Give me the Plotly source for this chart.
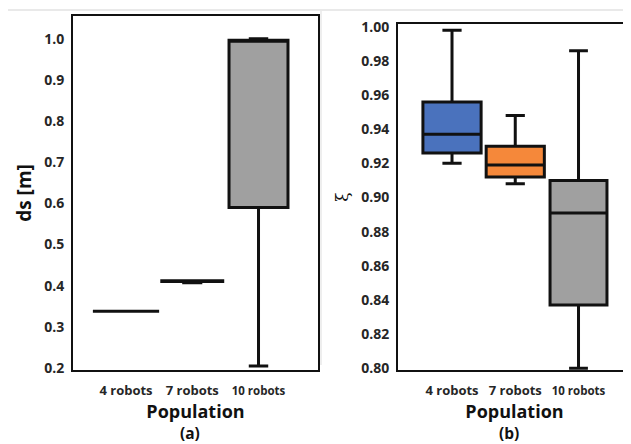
import plotly.graph_objects as go

categories = ["4 robots", "7 robots", "10 robots"]
tick_labels = ["4 robots", "7 robots", "<span style='font-size:11.5px'>10 robots</span>"]

# Panel (a): ds [m]
a_low = [0.338, 0.407, 0.205]
a_q1 = [0.338, 0.410, 0.590]
a_med = [0.338, 0.411, 0.995]
a_q3 = [0.338, 0.412, 0.996]
a_high = [0.338, 0.412, 1.000]
a_width = [1.0, 0.92, 0.89]

# Panel (b): xi
b_low = [0.920, 0.908, 0.800]
b_q1 = [0.926, 0.912, 0.837]
b_med = [0.937, 0.919, 0.891]
b_q3 = [0.956, 0.930, 0.910]
b_high = [0.998, 0.948, 0.986]
b_width = [0.92, 0.92, 0.90]

a_colors = ["#a0a0a0", "#a0a0a0", "#a0a0a0"]
b_colors = ["#4a72bd", "#f5883a", "#a0a0a0"]

fig = go.Figure()
for i, c in enumerate(categories):
    fig.add_trace(go.Box(
        x=[c], q1=[a_q1[i]], median=[a_med[i]], q3=[a_q3[i]],
        lowerfence=[a_low[i]], upperfence=[a_high[i]],
        width=a_width[i], whiskerwidth=0.33,
        fillcolor=a_colors[i], line=dict(color="#111111", width=3),
        xaxis="x", yaxis="y", showlegend=False, hoverinfo="skip"))
for i, c in enumerate(categories):
    fig.add_trace(go.Box(
        x=[c], q1=[b_q1[i]], median=[b_med[i]], q3=[b_q3[i]],
        lowerfence=[b_low[i]], upperfence=[b_high[i]],
        width=b_width[i], whiskerwidth=0.33,
        fillcolor=b_colors[i], line=dict(color="#111111", width=3),
        xaxis="x2", yaxis="y2", showlegend=False, hoverinfo="skip"))

# page has an 8px body margin; figure coordinates = page coordinates - 8
W, H = 623, 444
OFF = 8


def px(x):
    return (x - OFF) / W


def py(y):
    return 1 - (y - OFF) / H


tickfont = dict(family="Open Sans", size=14, color="#262626", weight="bold")
xtickfont = dict(family="Open Sans", size=13, color="#262626", weight="bold")
titlefont = dict(family="Open Sans", size=18, color="#111111", weight="bold")

fig.update_layout(
    width=W, height=H,
    margin=dict(l=0, r=0, t=0, b=0),
    paper_bgcolor="white", plot_bgcolor="white",
    boxmode="overlay",
    xaxis=dict(domain=[px(73), px(318)], type="category", categoryorder="array",
               categoryarray=categories, tickvals=categories, ticktext=tick_labels,
               range=[-0.8, 2.898], showline=True, linecolor="#111111", linewidth=2,
               mirror=True, showgrid=False, ticks="", tickfont=xtickfont,
               ticklabelstandoff=7, automargin=False,
               title=dict(text="Population", font=titlefont, standoff=4),
               anchor="y", zeroline=False),
    yaxis=dict(domain=[py(370), py(16)], range=[0.195, 1.055],
               tickvals=[0.2, 0.3, 0.4, 0.5, 0.6, 0.7, 0.8, 0.9, 1.0],
               ticktext=["0.2", "0.3", "0.4", "0.5", "0.6", "0.7", "0.8", "0.9", "1.0"],
               showline=True, linecolor="#111111", linewidth=2, mirror=True,
               showgrid=False, zeroline=False, ticks="", tickfont=tickfont,
               ticklabelstandoff=4, automargin=False,
               title=dict(text="ds [m]", font=dict(family="Open Sans", size=19,
                                                  color="#111111", weight="bold"),
                          standoff=8),
               anchor="x"),
    xaxis2=dict(domain=[px(398), 1.0], type="category", categoryorder="array",
                categoryarray=categories, tickvals=categories, ticktext=tick_labels,
                range=[-0.854, 2.83], showline=True, linecolor="#111111", linewidth=2,
                mirror=True, showgrid=False, ticks="", tickfont=xtickfont,
                ticklabelstandoff=7, automargin=False,
                title=dict(text="Population", font=titlefont, standoff=4),
                anchor="y2", zeroline=False),
    yaxis2=dict(domain=[py(370), py(24)], range=[0.799, 1.0016],
                tickvals=[0.80, 0.82, 0.84, 0.86, 0.88, 0.90, 0.92, 0.94, 0.96, 0.98, 1.00],
                ticktext=["0.80", "0.82", "0.84", "0.86", "0.88", "0.90", "0.92",
                          "0.94", "0.96", "0.98", "1.00"],
                showline=True, linecolor="#111111", linewidth=2, mirror=False,
                showgrid=False, zeroline=False, ticks="", tickfont=tickfont,
                ticklabelstandoff=4, automargin=False,
                title=dict(text="ξ", font=dict(family="DejaVu Serif", size=17, color="#111111"),
                           standoff=8),
                anchor="x2"),
    annotations=[
        dict(text="(a)", x=px(190), y=py(432.5), xref="paper", yref="paper",
             xanchor="center", yanchor="middle", showarrow=False,
             font=dict(family="Open Sans", size=15.5, color="#111111", weight="bold")),
        dict(text="(b)", x=px(509), y=py(432.5), xref="paper", yref="paper",
             xanchor="center", yanchor="middle", showarrow=False,
             font=dict(family="Open Sans", size=15.5, color="#111111", weight="bold")),
    ],
    shapes=[
        dict(type="line", xref="paper", yref="paper", x0=px(5), x1=1, y0=py(10), y1=py(10),
             line=dict(color="#e2e2e2", width=1.5), layer="below"),
        dict(type="line", xref="paper", yref="paper", x0=px(5), x1=px(5), y0=py(427), y1=py(10),
             line=dict(color="#e2e2e2", width=1.5), layer="below"),
        dict(type="line", xref="paper", yref="paper", x0=px(321), x1=px(321), y0=py(365), y1=py(10),
             line=dict(color="#e8e8e8", width=1.5), layer="below"),
    ],
)

fig.write_html("out.html")
